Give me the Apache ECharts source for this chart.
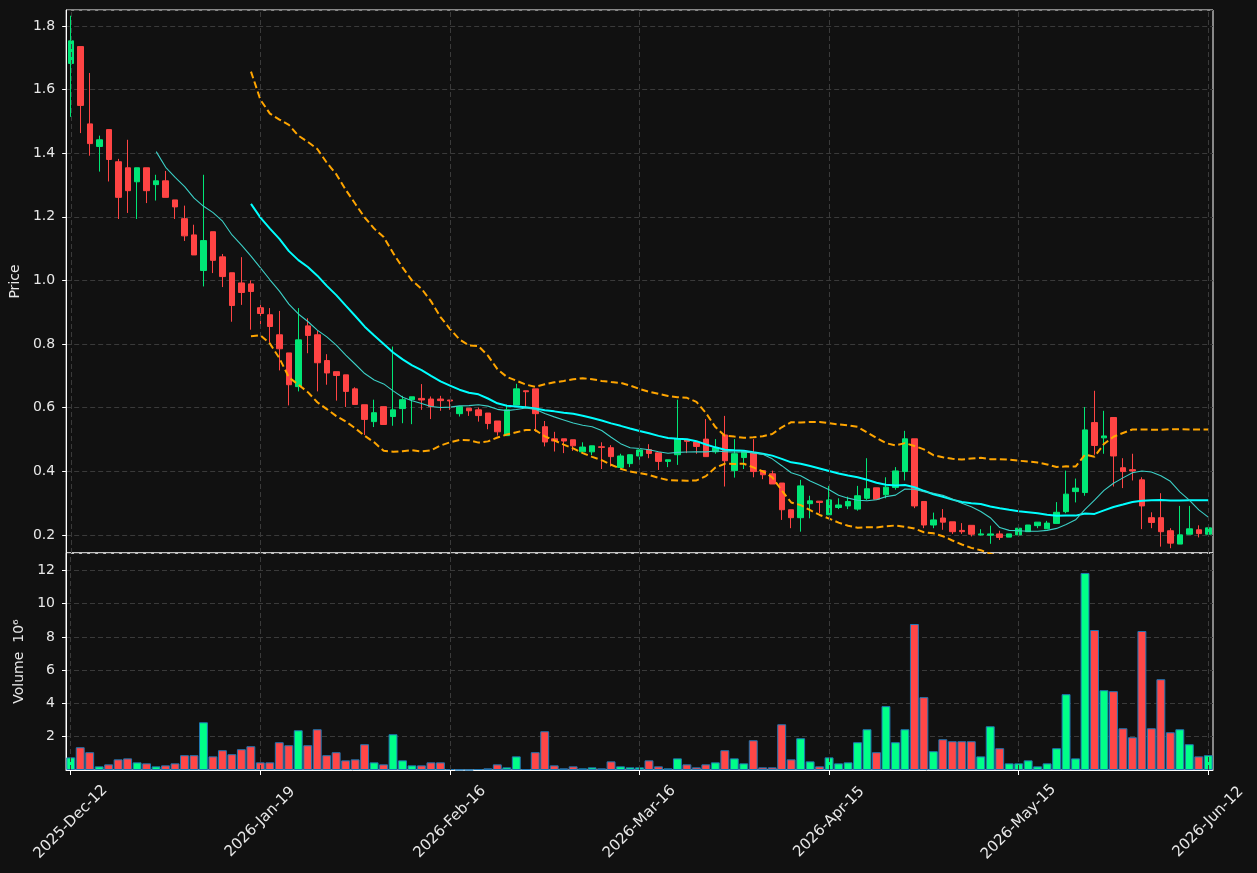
<!DOCTYPE html>
<html><head><meta charset="utf-8">
<script src="https://cdn.jsdelivr.net/npm/echarts@6/dist/echarts.min.js"></script>
<style>html,body{margin:0;padding:0;background:#111111;}#c{width:1257px;height:873px;}</style>
</head><body><div id="c"></div>
<script>
// Calendar: weekdays from start to end, minus non-trading days
const startDate = '2025-12-12';
const endDate = '2026-06-12';
const holidays = ['2025-12-24','2025-12-25','2025-12-26','2025-12-31','2026-01-01','2026-01-02','2026-04-03','2026-04-06','2026-05-01','2026-05-14'];
const monthNames = ['Jan','Feb','Mar','Apr','May','Jun','Jul','Aug','Sep','Oct','Nov','Dec'];

const opens = [1.682,1.735,1.492,1.421,1.474,1.373,1.354,1.310,1.354,1.301,
1.313,1.253,1.194,1.143,1.031,1.153,1.074,1.024,0.992,0.989,
0.914,0.892,0.829,0.772,0.666,0.857,0.829,0.748,0.713,0.703,
0.659,0.609,0.556,0.603,0.572,0.597,0.625,0.629,0.627,0.627,
0.624,0.581,0.598,0.593,0.583,0.558,0.512,0.608,0.653,0.659,
0.540,0.502,0.502,0.499,0.461,0.461,0.477,0.474,0.412,0.424,
0.448,0.468,0.458,0.431,0.452,0.499,0.492,0.501,0.461,0.514,
0.402,0.443,0.457,0.402,0.392,0.363,0.279,0.254,0.298,0.306,
0.263,0.286,0.291,0.281,0.315,0.348,0.326,0.349,0.399,0.502,
0.305,0.231,0.253,0.241,0.214,0.230,0.200,0.199,0.203,0.193,
0.200,0.210,0.229,0.219,0.236,0.273,0.336,0.333,0.553,0.505,
0.569,0.411,0.405,0.373,0.254,0.254,0.213,0.171,0.202,0.216,
0.202];
const closes = [1.753,1.550,1.430,1.442,1.380,1.261,1.282,1.354,1.282,1.313,
1.261,1.231,1.140,1.080,1.125,1.063,1.012,0.921,0.962,0.965,
0.896,0.855,0.785,0.672,0.813,0.827,0.741,0.709,0.701,0.651,
0.610,0.563,0.584,0.547,0.593,0.625,0.634,0.624,0.603,0.622,
0.621,0.603,0.590,0.575,0.550,0.524,0.593,0.659,0.650,0.581,
0.492,0.495,0.495,0.480,0.476,0.480,0.475,0.446,0.448,0.452,
0.467,0.456,0.431,0.436,0.501,0.494,0.478,0.446,0.474,0.433,
0.455,0.462,0.399,0.389,0.360,0.279,0.254,0.354,0.307,0.302,
0.310,0.294,0.305,0.323,0.345,0.312,0.350,0.401,0.502,0.291,
0.231,0.247,0.240,0.210,0.210,0.202,0.203,0.203,0.192,0.203,
0.221,0.231,0.240,0.237,0.271,0.328,0.347,0.530,0.481,0.511,
0.448,0.399,0.401,0.291,0.239,0.210,0.174,0.200,0.219,0.204,
0.222];
const lows = [1.514,1.463,1.392,1.342,1.311,1.193,1.212,1.193,1.243,1.251,
1.261,1.193,1.124,1.080,0.981,1.023,0.979,0.870,0.923,0.845,
0.860,0.805,0.717,0.607,0.651,0.771,0.651,0.672,0.622,0.602,
0.610,0.514,0.539,0.547,0.543,0.551,0.548,0.593,0.564,0.590,
0.593,0.572,0.574,0.556,0.532,0.512,0.512,0.608,0.601,0.524,
0.478,0.462,0.457,0.464,0.461,0.451,0.407,0.415,0.412,0.413,
0.436,0.441,0.404,0.413,0.420,0.457,0.455,0.446,0.455,0.352,
0.380,0.407,0.381,0.375,0.360,0.247,0.221,0.210,0.252,0.268,
0.263,0.281,0.281,0.276,0.310,0.312,0.315,0.342,0.371,0.284,
0.221,0.221,0.216,0.203,0.203,0.195,0.198,0.172,0.184,0.193,
0.200,0.210,0.221,0.219,0.236,0.268,0.302,0.323,0.452,0.455,
0.352,0.347,0.371,0.218,0.221,0.163,0.158,0.171,0.202,0.192,
0.202];
const highs = [1.832,1.735,1.652,1.455,1.474,1.382,1.442,1.354,1.354,1.332,
1.344,1.253,1.235,1.175,1.332,1.153,1.083,1.024,1.073,1.000,
0.929,0.913,0.904,0.772,0.913,0.881,0.842,0.768,0.713,0.703,
0.664,0.609,0.625,0.603,0.792,0.637,0.634,0.674,0.635,0.637,
0.624,0.603,0.598,0.600,0.583,0.558,0.609,0.675,0.653,0.659,
0.558,0.524,0.502,0.499,0.491,0.480,0.491,0.482,0.455,0.452,
0.483,0.485,0.458,0.436,0.625,0.499,0.492,0.564,0.501,0.574,
0.501,0.462,0.501,0.402,0.402,0.363,0.279,0.373,0.323,0.306,
0.354,0.315,0.320,0.354,0.441,0.348,0.381,0.413,0.527,0.502,
0.305,0.270,0.281,0.241,0.237,0.230,0.218,0.229,0.213,0.203,
0.221,0.231,0.240,0.244,0.303,0.402,0.377,0.602,0.653,0.590,
0.569,0.441,0.455,0.381,0.271,0.331,0.221,0.291,0.291,0.230,
0.226];
// Volume in millions
const volumes = [0.76,1.37,1.07,0.22,0.34,0.64,0.70,0.46,0.40,0.22,
0.28,0.40,0.89,0.89,2.87,0.82,1.19,0.95,1.25,1.43,
0.46,0.46,1.67,1.49,2.39,1.49,2.45,0.89,1.07,0.58,
0.64,1.55,0.46,0.34,2.15,0.58,0.28,0.28,0.46,0.46,
0.06,0.02,0.01,0.06,0.10,0.34,0.16,0.82,0.06,1.07,
2.33,0.28,0.10,0.22,0.10,0.16,0.10,0.52,0.22,0.16,
0.16,0.58,0.22,0.10,0.70,0.34,0.16,0.34,0.46,1.19,
0.70,0.40,1.79,0.16,0.16,2.75,0.64,1.91,0.52,0.22,
0.76,0.40,0.46,1.67,2.45,1.07,3.84,1.67,2.45,8.78,
4.38,1.13,1.85,1.73,1.73,1.73,0.82,2.63,1.31,0.40,
0.40,0.58,0.22,0.40,1.31,4.56,0.70,11.85,8.42,4.80,
4.74,2.51,1.97,8.36,2.51,5.46,2.27,2.45,1.55,0.82,
0.89];

const priceTicks = [0.2,0.4,0.6,0.8,1.0,1.2,1.4,1.6,1.8];
const volumeTicks = [2,4,6,8,10,12];
const labelEvery = 20;

// Build date categories
const dates = [];
(function(){
  const d = new Date(startDate + 'T00:00:00Z');
  const end = new Date(endDate + 'T00:00:00Z');
  while (d <= end) {
    const wd = d.getUTCDay();
    const iso = d.toISOString().slice(0,10);
    if (wd !== 0 && wd !== 6 && holidays.indexOf(iso) < 0) {
      dates.push(d.getUTCFullYear() + '-' + monthNames[d.getUTCMonth()] + '-' + String(d.getUTCDate()).padStart(2,'0'));
    }
    d.setUTCDate(d.getUTCDate() + 1);
  }
})();

function sma(arr, n) {
  return arr.map((_, i) => {
    if (i < n - 1) return '-';
    let s = 0; for (let k = i - n + 1; k <= i; k++) s += arr[k];
    return s / n;
  });
}
function band(arr, n, mult) {
  return arr.map((_, i) => {
    if (i < n - 1) return '-';
    let s = 0; for (let k = i - n + 1; k <= i; k++) s += arr[k];
    const m = s / n;
    let v = 0; for (let k = i - n + 1; k <= i; k++) v += (arr[k] - m) * (arr[k] - m);
    return m + mult * Math.sqrt(v / n);
  });
}

const UP = '#00e676', DOWN = '#ff4444', VUP = '#00ff88', VDOWN = '#ff4747';
const candles = opens.map((o, i) => [o, closes[i], lows[i], highs[i]]);
const volData = volumes.map((v, i) => ({ value: v, itemStyle: { color: closes[i] >= opens[i] ? VUP : VDOWN } }));
const ma10 = sma(closes, 10), ma20 = sma(closes, 20);
const bbUp = band(closes, 20, 2), bbLo = band(closes, 20, -2);
const vLines = dates.map((_, i) => i).filter(i => i % labelEvery === 0).map(i => ({ xAxis: i }));

const FONT = 'DejaVu Sans';
const TXT = '#e8e8e8';
const gridLine = { show: true, lineStyle: { color: '#3a3a3a', type: [5, 3], width: 1 } };
const vMark = { silent: true, symbol: ['none','none'], label: { show: false }, lineStyle: { color: '#3a3a3a', type: [5, 3], width: 1 }, data: vLines, animation: false };

const chart = echarts.init(document.getElementById('c'), null, { renderer: 'canvas' });
chart.setOption({
  backgroundColor: '#111111',
  animation: false,
  grid: [
    { left: 66, right: 44, top: 10, height: 543, show: true, borderColor: '#ffffff', borderWidth: 1, backgroundColor: 'transparent' },
    { left: 66, right: 44, top: 553, height: 217, show: true, borderColor: '#ffffff', borderWidth: 1, backgroundColor: 'transparent' }
  ],
  xAxis: [
    { type: 'category', gridIndex: 0, data: dates, boundaryGap: true,
      axisLine: { show: false }, axisTick: { show: false }, axisLabel: { show: false }, splitLine: { show: false } },
    { type: 'category', gridIndex: 1, data: dates, boundaryGap: true,
      axisLine: { show: true, lineStyle: { color: '#ffffff' } },
      axisTick: { show: true, alignWithLabel: true, interval: labelEvery - 1, length: 5, lineStyle: { color: '#ffffff' } },
      axisLabel: { interval: labelEvery - 1, rotate: 45, align: 'center', verticalAlign: 'middle', margin: 52, color: TXT, fontSize: 15, fontFamily: FONT },
      splitLine: { show: false } }
  ],
  yAxis: [
    { type: 'value', gridIndex: 0, min: 0.143, max: 1.85, splitNumber: 8, scale: true,
      name: 'Price', nameLocation: 'middle', nameGap: 40, nameTextStyle: { color: TXT, fontSize: 14, fontFamily: FONT },
      axisLine: { show: true, lineStyle: { color: '#ffffff' } },
      axisTick: { show: true, length: 4, lineStyle: { color: '#ffffff' } },
      axisLabel: { color: TXT, fontSize: 14, fontFamily: FONT, margin: 11, showMinLabel: false, showMaxLabel: false,
        formatter: v => priceTicks.some(t => Math.abs(t - v) < 1e-6) ? v.toFixed(1) : '' },
      splitLine: gridLine },
    { type: 'value', gridIndex: 1, min: 0, max: 13.05, splitNumber: 6,
      name: 'Volume  10\u2076', nameLocation: 'middle', nameGap: 38, nameTextStyle: { color: TXT, fontSize: 14, fontFamily: FONT },
      axisLine: { show: true, lineStyle: { color: '#ffffff' } },
      axisTick: { show: true, length: 4, lineStyle: { color: '#ffffff' } },
      axisLabel: { color: TXT, fontSize: 14, fontFamily: FONT, margin: 11, showMinLabel: false, showMaxLabel: false,
        formatter: v => volumeTicks.some(t => Math.abs(t - v) < 1e-6) ? String(v) : '' },
      splitLine: gridLine }
  ],
  series: [
    { type: 'line', name: 'vgrid0', xAxisIndex: 0, yAxisIndex: 0, data: [], z: 1, markLine: vMark, silent: true },
    { type: 'line', name: 'vgrid1', xAxisIndex: 1, yAxisIndex: 1, data: [], z: 1, markLine: vMark, silent: true },
    { type: 'candlestick', name: 'OHLC', xAxisIndex: 0, yAxisIndex: 0, data: candles, barWidth: 6, z: 3,
      itemStyle: { color: UP, color0: DOWN, borderColor: UP, borderColor0: DOWN, borderWidth: 1 } },
    { type: 'line', name: 'MA20', xAxisIndex: 0, yAxisIndex: 0, data: ma20, showSymbol: false, symbol: 'none', z: 4,
      lineStyle: { color: '#00ffff', width: 2 } },
    { type: 'line', name: 'MA10', xAxisIndex: 0, yAxisIndex: 0, data: ma10, showSymbol: false, symbol: 'none', z: 4,
      lineStyle: { color: '#3ccfc6', width: 1.1 } },
    { type: 'line', name: 'BB upper', xAxisIndex: 0, yAxisIndex: 0, data: bbUp, showSymbol: false, symbol: 'none', z: 4,
      lineStyle: { color: '#ffa500', width: 2, type: [7, 3.5] } },
    { type: 'line', name: 'BB lower', xAxisIndex: 0, yAxisIndex: 0, data: bbLo, showSymbol: false, symbol: 'none', z: 4,
      lineStyle: { color: '#ffa500', width: 2, type: [7, 3.5] } },
    { type: 'bar', name: 'Volume', xAxisIndex: 1, yAxisIndex: 1, data: volData, barWidth: '94%', z: 3,
      itemStyle: { borderColor: '#1f77b4', borderWidth: 1 } }
  ]
});
</script>
</body></html>
